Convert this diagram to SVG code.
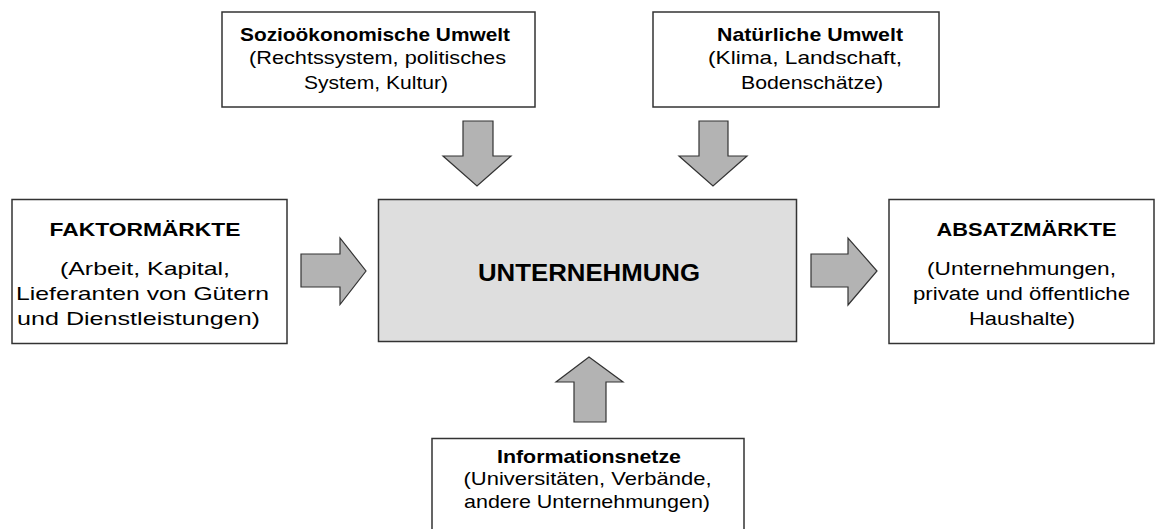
<svg xmlns="http://www.w3.org/2000/svg" width="1155" height="529" viewBox="0 0 1155 529">
<style>
.box{fill:#ffffff;stroke:#333333;stroke-width:1.5}
.core{fill:#dedede;stroke:#333333;stroke-width:1.5}
.arr{fill:#b3b3b3;stroke:#333333;stroke-width:1.2;stroke-linejoin:miter}
text{font-family:"Liberation Sans",Arial,sans-serif;fill:#000;text-anchor:middle}
.t{font-weight:bold;font-size:19px}
.r{font-size:19px}
.big{font-weight:bold;font-size:24px}
</style>
<rect width="1155" height="529" fill="#ffffff"/>
<g id="connectors">
<polygon class="arr" points="463,121 493,121 493,156 511,156 477,186 443,156 463,156"/>
<polygon class="arr" points="699,121 728,121 728,156 747,156 713,186 679,156 699,156"/>
<polygon class="arr" points="301,254 340,254 340,238 366,271 340,304.5 340,287 301,287"/>
<polygon class="arr" points="811,254 848,254 848,238 877,271 848,305 848,287 811,287"/>
<polygon class="arr" points="574,422 606,422 606,382 623,382 589,357 556,382 574,382"/>
</g>
<g id="sozio">
<rect class="box" x="222" y="12" width="313" height="95"/>
<text class="t" x="375" y="40.5" textLength="270" lengthAdjust="spacingAndGlyphs">Sozioökonomische Umwelt</text>
<text class="r" x="377.5" y="64" textLength="257" lengthAdjust="spacingAndGlyphs">(Rechtssystem, politisches</text>
<text class="r" x="376" y="89" textLength="144" lengthAdjust="spacingAndGlyphs">System, Kultur)</text>
</g>
<g id="natur">
<rect class="box" x="653" y="12" width="286" height="95"/>
<text class="t" x="810" y="40.5" textLength="186" lengthAdjust="spacingAndGlyphs">Natürliche Umwelt</text>
<text class="r" x="805" y="64" textLength="194" lengthAdjust="spacingAndGlyphs">(Klima, Landschaft,</text>
<text class="r" x="812" y="89" textLength="142" lengthAdjust="spacingAndGlyphs">Bodenschätze)</text>
</g>
<g id="faktor">
<rect class="box" x="12" y="199.5" width="275" height="144"/>
<text class="t" x="145" y="236" textLength="191" lengthAdjust="spacingAndGlyphs">FAKTORMÄRKTE</text>
<text class="r" x="145" y="275" textLength="170" lengthAdjust="spacingAndGlyphs">(Arbeit, Kapital,</text>
<text class="r" x="142.5" y="300" textLength="253" lengthAdjust="spacingAndGlyphs">Lieferanten von Gütern</text>
<text class="r" x="138.5" y="325" textLength="243" lengthAdjust="spacingAndGlyphs">und Dienstleistungen)</text>
</g>
<g id="unternehmung">
<rect class="core" x="378.5" y="199.5" width="418" height="142"/>
<text class="big" x="589" y="280.5" textLength="222" lengthAdjust="spacingAndGlyphs">UNTERNEHMUNG</text>
</g>
<g id="absatz">
<rect class="box" x="889" y="199.5" width="265" height="144"/>
<text class="t" x="1026.5" y="236" textLength="180" lengthAdjust="spacingAndGlyphs">ABSATZMÄRKTE</text>
<text class="r" x="1021.5" y="275" textLength="189" lengthAdjust="spacingAndGlyphs">(Unternehmungen,</text>
<text class="r" x="1021.5" y="300" textLength="217" lengthAdjust="spacingAndGlyphs">private und öffentliche</text>
<text class="r" x="1022" y="325" textLength="106" lengthAdjust="spacingAndGlyphs">Haushalte)</text>
</g>
<g id="info">
<rect class="box" x="432" y="438.5" width="312" height="100"/>
<text class="t" x="589" y="462.5" textLength="184" lengthAdjust="spacingAndGlyphs">Informationsnetze</text>
<text class="r" x="587.5" y="485" textLength="248" lengthAdjust="spacingAndGlyphs">(Universitäten, Verbände,</text>
<text class="r" x="587" y="508" textLength="246" lengthAdjust="spacingAndGlyphs">andere Unternehmungen)</text>
</g>
</svg>
